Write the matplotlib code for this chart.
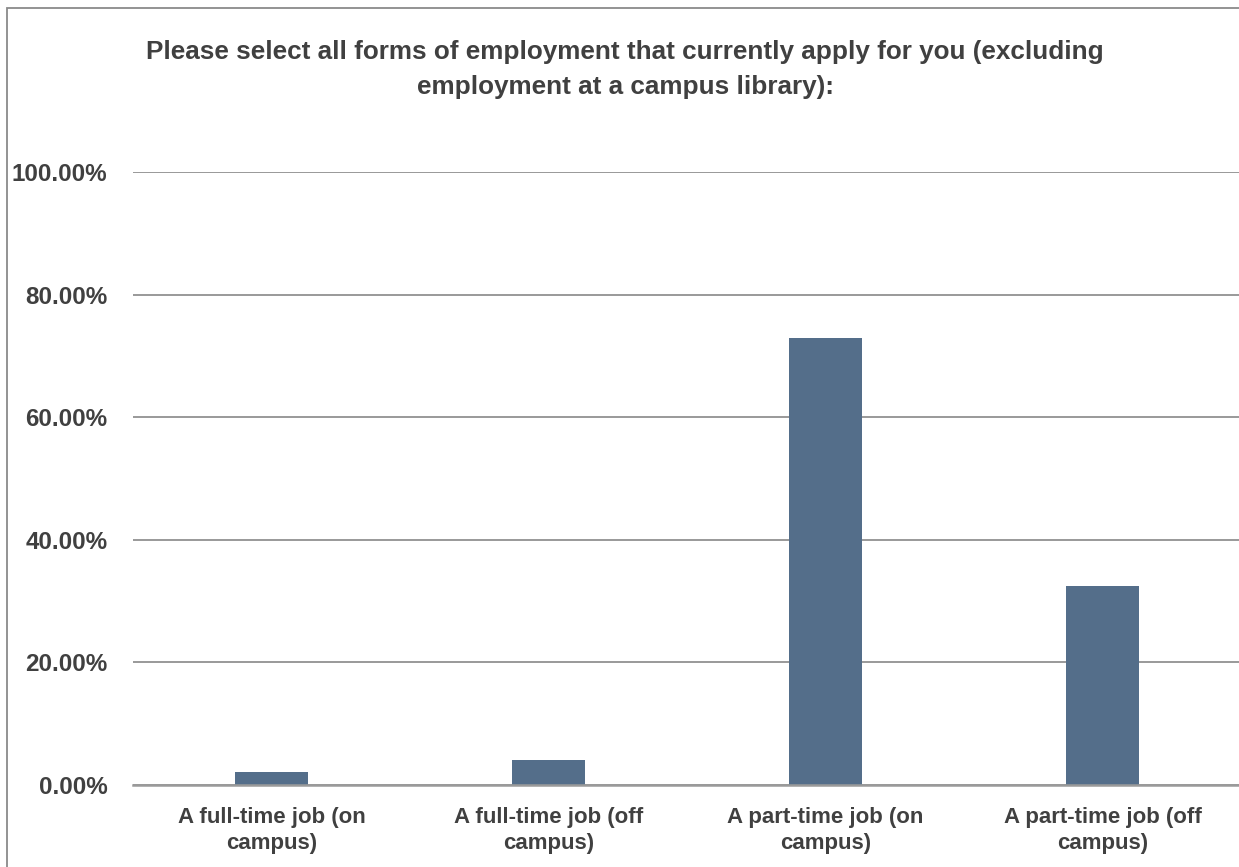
import matplotlib
matplotlib.use("Agg")
import matplotlib.pyplot as plt
from matplotlib.patches import Rectangle
from matplotlib.ticker import FuncFormatter
import numpy as np

categories = [
    "A full-time job (on\ncampus)",
    "A full-time job (off\ncampus)",
    "A part-time job (on\ncampus)",
    "A part-time job (off\ncampus)",
]
values = [2.1, 4.1, 72.9, 32.5]
y_ticks = [0, 20, 40, 60, 80, 100]
title_lines = [
    "Please select all forms of employment that currently apply for you (excluding",
    "employment at a campus library):",
]

plt.rcParams["font.family"] = ["Liberation Sans", "DejaVu Sans"]
text_color = "#404040"
bar_color = "#546e8a"
grid_color = "#878787"

W, H = 1239, 867
fig = plt.figure(figsize=(W / 100, H / 100), dpi=100)
ax = fig.add_axes([0.1073, 0.0946, 0.8943, 0.7070])

x = np.arange(len(categories))
ax.bar(x, values, width=0.265, color=bar_color, zorder=3)

ax.set_xlim(-0.5, 3.5)
ax.set_ylim(0, 100)
ax.set_yticks(y_ticks)
ax.yaxis.set_major_formatter(FuncFormatter(lambda v, p: f"{v:.2f}%"))
ax.set_xticks(x)
ax.set_xticklabels(categories)
for lab in ax.get_xticklabels():
    lab.set_fontsize(16)
    lab.set_fontweight("bold")
    lab.set_color(text_color)
    lab.set_linespacing(1.29)
for lab in ax.get_yticklabels():
    lab.set_fontsize(17.4)
    lab.set_fontweight("bold")
    lab.set_color(text_color)
ax.tick_params(axis="both", length=0)
ax.tick_params(axis="y", pad=18.5)
ax.tick_params(axis="x", pad=16)

ax.grid(axis="y", color=grid_color, linewidth=1.2, zorder=0)
for side in ["top", "right", "left"]:
    ax.spines[side].set_visible(False)
ax.spines["bottom"].set_color("#9a9a9a")
ax.spines["bottom"].set_linewidth(1.8)
ax.spines["bottom"].set_zorder(4)

# title, two centred lines placed by baseline
for line, base_px in zip(title_lines, [59, 94]):
    fig.text(625 / W, 1 - base_px / H, line, ha="center", va="baseline",
             fontsize=18.8, fontweight="bold", color=text_color)

# chart frame, only the left and top edges fall inside the image
fig.patches.append(Rectangle((7 / W, -0.01), 1.02, 1.01 - 8 / H,
                             transform=fig.transFigure, fill=False,
                             edgecolor="#8a8a8a", linewidth=1.3))

fig.savefig("out.png", dpi=100)
